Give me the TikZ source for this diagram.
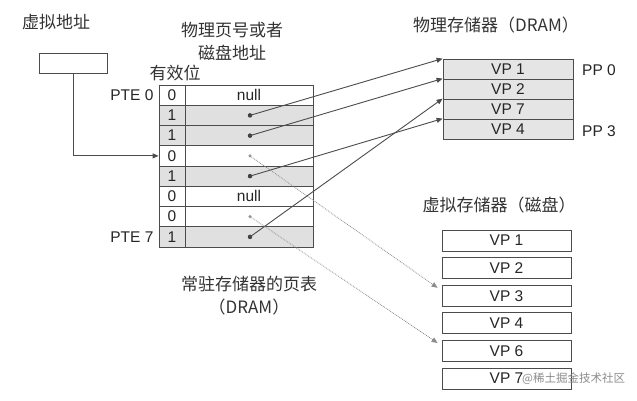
\documentclass[tikz,border=0pt]{standalone}
\usepackage{fontspec}
\setmainfont{Liberation Sans}
\newfontfamily\cjk{Noto Sans CJK SC}
\usetikzlibrary{arrows.meta,calc}
\begin{document}
\begin{tikzpicture}[x=1pt,y=-1pt,
  lat/.style={font=\fontsize{15.5}{17}\selectfont, text=black!85},
  zh/.style={font=\cjk\fontsize{17}{23}\selectfont, text=black!80, align=center},
  cell/.style={draw=black!70, line width=0.8pt, inner sep=0pt, lat},
  link/.style={draw=black!70, line width=0.9pt, -{Triangle[length=6pt,width=5pt]}},
  dlink/.style={draw=black!45, line width=0.8pt, densely dotted, -{Triangle[length=6pt,width=5pt]}},
  dotm/.style={circle, fill=black!75, inner sep=0pt, minimum size=4.5pt},
  dotl/.style={circle, fill=black!40, inner sep=0pt, minimum size=3.5pt}]
\useasboundingbox (0,0) rectangle (637,400);
\fill[white] (0,0) rectangle (637,400);

% titles
\node[zh] (tva) at (56,22) {虚拟地址};
\node[zh] (tppn) at (232,41) {物理页号或者\\磁盘地址};
\node[zh] (tvalid) at (175,73) {有效位};
\node[zh] (tdram) at (496,25) {物理存储器（DRAM）};
\node[zh] (tdisk) at (499,205) {虚拟存储器（磁盘）};
\node[zh] (tcap) at (249,296) {常驻存储器的页表\\（DRAM）};

% virtual address box
\node[draw=black!70, line width=0.8pt, minimum width=68pt, minimum height=20pt, inner sep=0pt] (va) at (73,63) {};

% page table
\foreach \i/\b/\f in {0/0/white,1/1/black!12,2/1/black!12,3/0/white,4/1/black!12,5/0/white,6/0/white,7/1/black!12} {
  \node[cell, minimum width=26pt, minimum height=20.25pt, fill=\f] (v\i) at (172,{85+20.25*(\i+0.5)}) {\b};
  \node[cell, minimum width=128pt, minimum height=20.25pt, fill=\f] (a\i) at (249,{85+20.25*(\i+0.5)}) {};
}
\node[lat] at (a0) {null};
\node[lat] at (a5) {null};
\node[lat, anchor=east] (pte0) at (157,95) {PTE 0};
\node[lat, anchor=east] (pte7) at (157,237) {PTE 7};

\foreach \i in {1,2,4,7} \node[dotm] (d\i) at (250,{85+20.25*(\i+0.5)}) {};
\foreach \i in {3,6} \node[dotl] (d\i) at (250,{85+20.25*(\i+0.5)}) {};

% physical memory
\foreach \i/\t in {0/VP 1,1/VP 2,2/VP 7,3/VP 4} {
  \node[cell, minimum width=130pt, minimum height=20pt, fill=black!10] (p\i) at (508,{69+20*\i}) {\t};
}
\node[lat] (pp0) at (599,70) {PP 0};
\node[lat] (pp3) at (599,131) {PP 3};

% disk
\foreach \i/\t in {0/VP 1,1/VP 2,2/VP 3,3/VP 4,4/VP 6,5/VP 7} {
  \node[cell, minimum width=129pt, minimum height=21pt] (k\i) at (506.5,{240.5+27.6*\i}) {\t};
}

% connectors
\draw[link] (va.south) |- (v3.west);
\draw[link] (d1.center) -- (p0.north west);
\draw[link] (d2.center) -- (p1.north west);
\draw[link] (d4.center) -- (p3.north west);
\draw[link] (d7.center) -- (p2.north west);
\draw[dlink] (d3.center) -- ($(k2.north west)+(-4,3)$);
\draw[dlink] (d6.center) -- ($(k4.north west)+(-4,3)$);

% watermark
\node[font=\cjk\fontsize{11.5}{13}\selectfont, text=black!45, anchor=west, inner sep=0pt] (wm) at (522,379) {@稀土掘金技术社区};
\end{tikzpicture}
\end{document}
